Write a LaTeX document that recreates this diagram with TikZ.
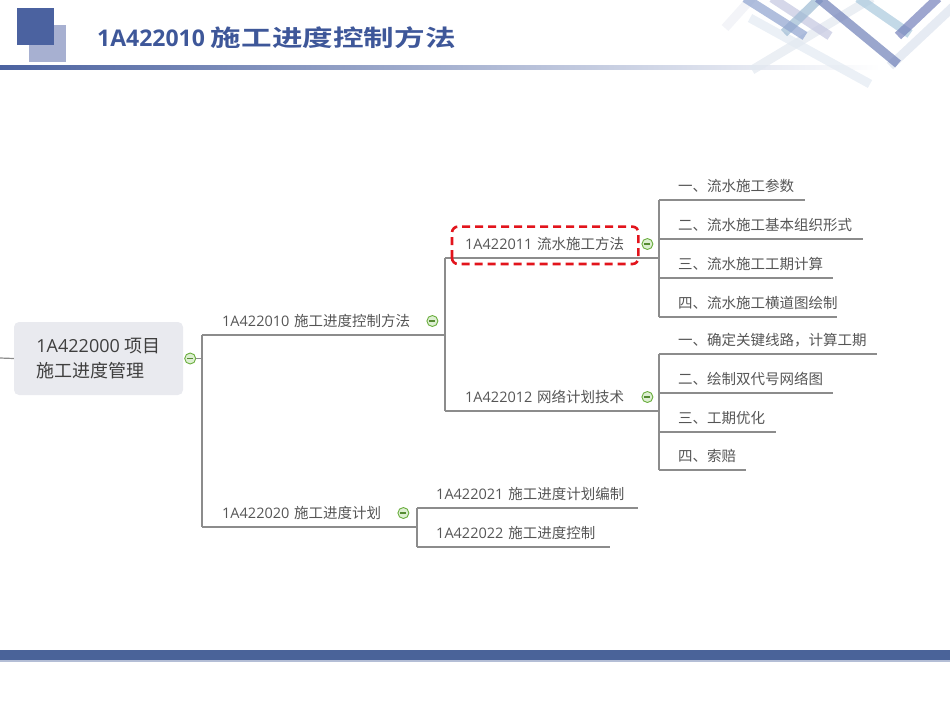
\documentclass[tikz,border=0pt]{standalone}
\usepackage{fontspec}
\setmainfont{Open Sans}
\newfontfamily\cjk{Noto Sans CJK SC}[BoldFont={Noto Sans CJK SC Bold}]
\usepackage{xcolor}
\usetikzlibrary{positioning}

\definecolor{linegray}{HTML}{8C8C8C}
\definecolor{txtgray}{HTML}{555555}
\definecolor{txtdark}{HTML}{3F3F3F}
\definecolor{rootfill}{HTML}{E9EAEF}
\definecolor{foldgreen}{HTML}{6AAE3E}
\definecolor{foldfill}{HTML}{DDEFD2}
\definecolor{hired}{HTML}{E2141C}
\definecolor{sqdark}{HTML}{4B62A0}
\definecolor{sqlight}{HTML}{A7B0D1}
\definecolor{titleblue}{HTML}{3E5799}
\definecolor{barblue}{HTML}{4A6399}
\definecolor{barlight}{HTML}{B4BED6}
\definecolor{ribA}{HTML}{8FA3CF}
\definecolor{ribB}{HTML}{C3C6E0}
\definecolor{ribC}{HTML}{6F80B8}
\definecolor{ribD}{HTML}{A9C9DD}
\definecolor{ribE}{HTML}{E3EAF2}
\definecolor{ribF}{HTML}{EEF0F5}
\definecolor{ribG}{HTML}{9DBAD3}
\definecolor{ribH}{HTML}{E2E8F0}
\definecolor{ribI}{HTML}{7580BA}
\definecolor{ribJ}{HTML}{DCE3EE}

\begin{document}
\begin{tikzpicture}[
        x=1pt, y=-1pt,
        link/.style={draw=linegray, line width=1.2pt},
        tag/.style={anchor=south west, inner xsep=0pt, inner ysep=5pt,
            text height=11pt, text depth=3pt, align=left, text=txtgray,
            font=\cjk\fontsize{14.5}{17}\selectfont},
        rootbox/.style={rounded corners=5pt, fill=rootfill, minimum width=169pt,
            minimum height=73pt, inner xsep=22pt, align=left,
            text=txtdark, font=\fontsize{18}{25}\selectfont},
        fold/.style={circle, draw=foldgreen, fill=foldfill, line width=0.9pt,
            minimum size=11pt, inner sep=0pt,
            path picture={\draw[foldgreen!80!black, line width=1.1pt]
                ([xshift=-3pt]path picture bounding box.center) --
                ([xshift=3pt]path picture bounding box.center);}},
        hilite/.style={draw=hired, dash pattern=on 8pt off 5pt, line width=2.6pt,
            rounded corners=6pt},
        ribbon/.style={line width=9pt, opacity=0.7},
    ]
    \useasboundingbox (0,0) rectangle (950,713);

    % header
    \fill[sqlight] (29,25) rectangle (66,62);
    \fill[sqdark] (17,8) rectangle (54,45);
    \node[anchor=base west, inner sep=0pt, text=titleblue,
        font=\bfseries\fontsize{23}{26}\selectfont] (title) at (97,46)
        {1A422010 \scalebox{1.33}[1]{\cjk\bfseries 施工进度控制方法}};
    \shade[left color=sqdark, right color=white] (0,65) rectangle (880,69);

    % ribbons in the corner
    \begin{scope}
        \clip (700,0) rectangle (950,90);
        \draw[ribbon, color=ribH] (752,70) -- (872,-2);
        \draw[ribbon, color=ribE] (750,18) -- (870,84);
        \draw[ribbon, color=ribF] (725,28) -- (752,-2);
        \draw[ribbon, color=ribJ] (890,66) -- (955,5);
        \draw[ribbon, color=ribB] (772,-2) -- (830,36);
        \draw[ribbon, color=ribD] (858,-2) -- (910,34);
        \draw[ribbon, color=ribG] (784,33) -- (820,-2);
        \draw[ribbon, color=ribA] (745,-2) -- (805,36);
        \draw[ribbon, color=ribC] (818,-2) -- (898,64);
        \draw[ribbon, color=ribI] (898,36) -- (938,-2);
    \end{scope}

    % footer
    \fill[barblue] (0,650) rectangle (950,660);
    \fill[barlight] (0,660) rectangle (950,661.5);

    % root
    \coordinate (inlet) at (0,358);
    \node[rootbox] (root) at (98.5,358.5) {1A422000 {\cjk 项目}\\{\cjk 施工进度管理}};
    \node[fold] (f0) at ([xshift=7pt]root.east) {};

    % main branches
    \node[tag, text width=243pt] (b1) at (202,335) {\hspace*{20pt}{\rmfamily 1A422010} 施工进度控制方法};
    \node[tag, text width=215pt] (b2) at (202,527) {\hspace*{20pt}{\rmfamily 1A422020} 施工进度计划};
    \node[fold] (f1) at ([shift={(-13,-14)}]b1.south east) {};
    \node[fold] (f2) at ([shift={(-14,-14)}]b2.south east) {};

    % under 1A422010
    \node[tag, text width=214pt] (b11) at (445,258) {\hspace*{20pt}{\rmfamily 1A422011} 流水施工方法};
    \node[tag, text width=214pt] (b12) at (445,411) {\hspace*{20pt}{\rmfamily 1A422012} 网络计划技术};
    \node[fold] (f11) at ([shift={(-12,-14)}]b11.south east) {};
    \node[fold] (f12) at ([shift={(-12,-14)}]b12.south east) {};

    \node[tag, text width=146pt] (l11) at (659,200) {\hspace*{19pt}一、流水施工参数};
    \node[tag, text width=204pt] (l12) at (659,239) {\hspace*{19pt}二、流水施工基本组织形式};
    \node[tag, text width=174pt] (l13) at (659,278) {\hspace*{19pt}三、流水施工工期计算};
    \node[tag, text width=178pt] (l14) at (659,317) {\hspace*{19pt}四、流水施工横道图绘制};

    \node[tag, text width=218pt] (l21) at (659,354) {\hspace*{19pt}一、确定关键线路，计算工期};
    \node[tag, text width=174pt] (l22) at (659,393) {\hspace*{19pt}二、绘制双代号网络图};
    \node[tag, text width=117pt] (l23) at (659,432) {\hspace*{19pt}三、工期优化};
    \node[tag, text width=87pt] (l24) at (659,470) {\hspace*{19pt}四、索赔};

    % under 1A422020
    \node[tag, text width=221pt] (l31) at (417,508) {\hspace*{19pt}{\rmfamily 1A422021} 施工进度计划编制};
    \node[tag, text width=193pt] (l32) at (417,547) {\hspace*{19pt}{\rmfamily 1A422022} 施工进度控制};

    % connectors
    \draw[link] (inlet) -- (root.west);
    \draw[link] (f0) -- (f0 -| b1.south west);
    \draw[link] (b1.south west) -- (b2.south west);
    \foreach \n in {b1, b2, b11, b12, l11, l12, l13, l14, l21, l22, l23, l24, l31, l32}
        \draw[link] (\n.south west) -- (\n.south east);
    \draw[link] (b11.south west) -- (b12.south west);
    \draw[link] (l11.south west) -- (l14.south west);
    \draw[link] (l21.south west) -- (l24.south west);
    \draw[link] (l31.south west) -- (l32.south west);

    % marked topic
    \draw[hilite] ([shift={(7,6)}]b11.south west) rectangle ([shift={(-21,-7)}]b11.north east);
\end{tikzpicture}
\end{document}
